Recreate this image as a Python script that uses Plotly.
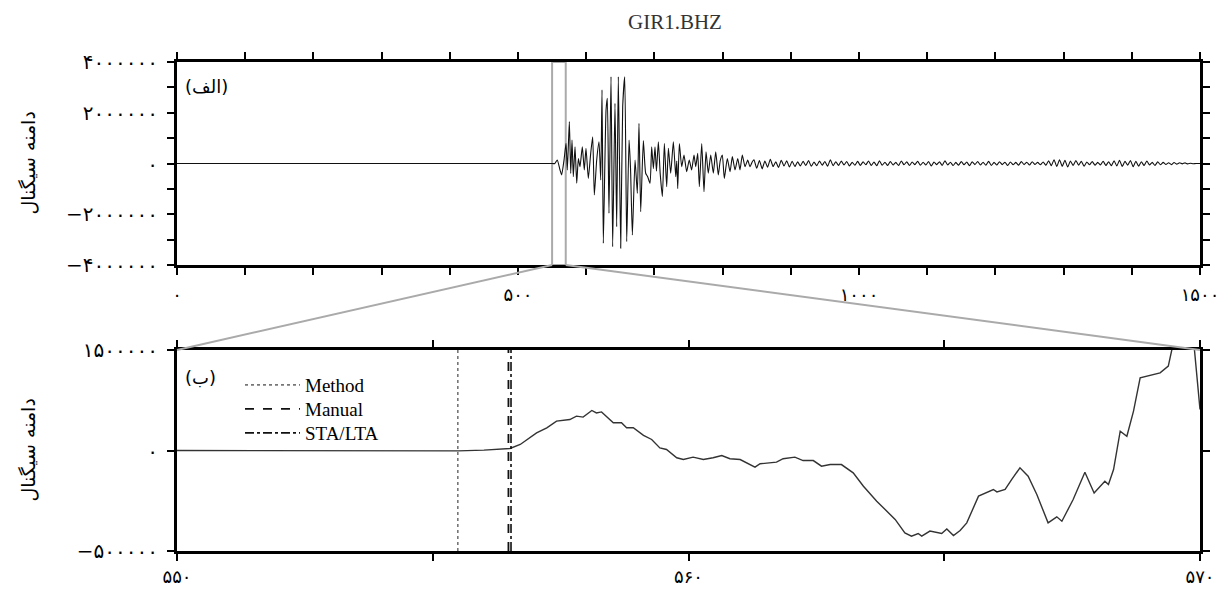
import numpy as np
import plotly.graph_objects as go

# ---------------- data ----------------
station = "GIR1.BHZ"
panel_labels = ["(الف)", "(ب)"]
y_title = "دامنه سیگنال"

# top trace: explicit points (time s, amplitude in thousands)
t_main = [0, 548, 554, 557.6, 561.6, 564, 567.5, 570.4, 572.3, 575.3, 577.3, 579.2, 581.1,
          583.6, 586.1, 588.5, 590.9, 594.3, 597.2, 599.7, 603.1, 606.6, 609.5, 611.9, 615.4,
          618.8, 621.3, 623.2, 625.1, 629.1, 631, 633.4, 636.4, 638.8, 642.2, 644.7, 647.1,
          650.6, 653.5, 656.5, 659.4, 662.8, 665, 667.7, 671.6, 675, 677.4, 679.9, 683.8,
          687.2, 690.1, 693.6, 696, 698.5, 700.9, 703, 705.8, 708.5, 711.7, 714.6, 718, 720.5,
          723.9, 727.8, 731.3, 732.8, 734.2, 736.6, 740, 743.4, 747.3, 751.1, 754.6, 758.1,
          760.6, 763.5, 765.9, 769.4, 772.7, 775.7, 779, 782.6, 786.4, 789.9, 793.7, 796.5,
          799.6, 802.5, 806.9, 810.9, 814.3, 818.2, 822.2, 825.5, 828.9, 832.9, 836.8, 840.2,
          843.6]
v_main = [0, 0, 0, 140, -256, -450, 140, 800, -256, 1650, -390, 925, -520,
          660, -780, 200, -125, 660, -256, 600, -585, 400, 1055, -1240, 140,
          860, -650, 2900, -3145, 2110, 2570, -1960, 3420, -3280, 2370, -2490, 3420,
          -3340, 2240, 3420, -3080, 925, -200, -2820, 140, -1175, 1585, -1900, 900,
          -385, -520, -780, 660, -200, 660, -300, 860, -400, -1300, 790, -910, 595,
          -385, 860, -520, 100, -990, 790, -125, 335, -325, 140, -250, 335,
          -125, 400, -910, 790, -1110, 460, -385, 335, -385, 460, -450, 100,
          335, -585, 200, -325, 270, -250, 200, -250, 335, -125, 140, -125,
          70]
# coda: one value every 4 s from 846 s (thousands)
coda_start, coda_step = 846, 4
v_coda = [150, -190, 120, -210, 100, -150, 170, -120, 70, -160, 130, -100, 110, -140,
          90, -120, 70, -100, 90, -80, 120, -110, 60, -90, 100, -70, 80, -110, 150, -90,
          70, -80, 100, -60, 80, -100, 50, -70, 90,
          -80, 70, -50, 100, -80, 60, -90, 110, -70, 50, -80, 80, -60, 45, -80, 100,
          -50, 70, -80, 60, -45, 90, -70, 50, -60,
          80, -100, 60, -45, 70, -80, 110, -60, 50, -80, 45, -70, 80, -50, 60, -90,
          70, -45, 80, -60, 50, -70, 90, -80, 45,
          -60, 70, -45, 50, -80, 60, -50, 45, -70, 80, -45, 50, -60, 70, -40, 45,
          -50, 60, -70, 110, -90, 150, -120, 150, -110,
          130, -140, 100, -80, 120, -70, 90, -110, 60, -50, 80, -70, 45, -60, 90,
          -80, 70, -90, 110, -100, 130, -120, 90, -70, 120,
          -130, 90, -110, 70, -80, 100, -60, 45, -80, 70, -50, 45, -40, 30, -45, 40,
          -25, 30, -15, 25, -15, 10, -8, 0]
t_end, v_end = 1500, 0

# zoomed trace (time s, amplitude in thousands)
t_zoom = [550, 554.0, 555.5, 556.0, 556.51, 556.71, 556.90, 557.03, 557.23, 557.42, 557.68,
          557.81, 557.94, 558.11, 558.20, 558.30, 558.53, 558.69, 558.79, 558.92, 559.12,
          559.28, 559.44, 559.57, 559.77, 559.90, 560.09, 560.29, 560.48, 560.65, 560.81,
          561.01, 561.30, 561.40, 561.72, 561.85, 562.08, 562.24, 562.44, 562.60, 562.77,
          562.99, 563.22, 563.42, 563.68, 563.87, 564.04, 564.23, 564.36, 564.49, 564.56,
          564.72, 564.95, 565.05, 565.18, 565.31, 565.44, 565.67, 565.83, 565.96, 566.03,
          566.19, 566.32, 566.48, 566.64, 566.81, 567.03, 567.20, 567.30, 567.52, 567.75,
          567.93, 568.14, 568.21, 568.31, 568.44, 568.57, 568.70, 568.83, 568.96, 569.22,
          569.38, 569.45, 569.6, 569.75, 569.87, 570.0]
v_zoom = [0, 0, -2, 2, 10, 30, 63, 88, 113, 146, 154,
          171, 166, 199, 187, 192, 138, 138, 113, 113, 75,
          55, 13, 5, -36, -45, -33, -45, -36, -25, -41,
          -45, -83, -66, -58, -41, -33, -50, -50, -78, -70,
          -70, -111, -178, -252, -302, -343, -410, -426, -413, -426,
          -401, -413, -390, -423, -398, -360, -227, -211, -194, -206,
          -194, -144, -86, -128, -219, -360, -330, -352, -244, -108,
          -211, -153, -169, -95, 96, 71, 196, 362, 370, 386,
          420, 502, 600, 650, 560, 204]

pick_names = ["Method", "Manual", "STA/LTA"]
pick_times = [555.49, 556.48, 556.53]

zoom_window = [550, 570]
top_xrange = [0, 1500]
top_yrange = [-4000000, 4000000]
bot_yrange = [-500000, 500000]

top_xtick_vals = list(range(0, 1501, 100))
top_xtick_text = ["۰", "", "", "", "", "۵۰۰", "", "", "", "", "۱۰۰۰", "", "", "", "", "۱۵۰۰"]
top_ytick_vals = [-4000000, -3000000, -2000000, -1000000, 0, 1000000, 2000000, 3000000, 4000000]
top_ytick_text = ["−۴۰۰۰۰۰۰", "", "−۲۰۰۰۰۰۰", "", "۰", "", "۲۰۰۰۰۰۰", "", "۴۰۰۰۰۰۰"]
bot_xtick_vals = [550, 555, 560, 565, 570]
bot_xtick_text = ["۵۵۰", "", "۵۶۰", "", "۵۷۰"]
bot_ytick_vals = [-500000, 0, 500000]
bot_ytick_text = ["−۵۰۰۰۰۰", "۰", "۱۵۰۰۰۰۰"]

# ---------------- figure ----------------
W, H = 1225, 590
XD = [177 / W, 1200 / W]
YT = [1 - 265 / H, 1 - 62 / H]
YB = [1 - 551 / H, 1 - 350 / H]

t_top = np.concatenate([np.array(t_main, float),
                        coda_start + coda_step * np.arange(len(v_coda)),
                        [t_end]])
v_top = np.concatenate([np.array(v_main, float), np.array(v_coda, float), [v_end]]) * 1000

fig = go.Figure()
fig.add_trace(go.Scatter(x=t_top, y=v_top, mode="lines",
                         line=dict(color="#111", width=1.1, shape="spline", smoothing=0.5),
                         showlegend=False, xaxis="x", yaxis="y", hoverinfo="skip"))
fig.add_trace(go.Scatter(x=t_zoom, y=np.array(v_zoom, float) * 1000, mode="lines",
                         line=dict(color="#333", width=1.4),
                         showlegend=False, xaxis="x2", yaxis="y2", hoverinfo="skip"))

pick_styles = [dict(color="#777", width=1.6, dash="dot"),
               dict(color="#111", width=1.8, dash="dash"),
               dict(color="#111", width=1.6, dash="dashdot")]
legend_ids = ["legend", "legend2", "legend3"]
for name, tp, st, lg in zip(pick_names, pick_times, pick_styles, legend_ids):
    fig.add_trace(go.Scatter(x=[tp, tp], y=bot_yrange, mode="lines", line=st, name=name,
                             legend=lg, xaxis="x2", yaxis="y2", hoverinfo="skip"))

axis_common = dict(showline=True, linewidth=3, linecolor="black", mirror="ticks",
                   ticks="outside", ticklen=7, tickwidth=2, tickcolor="black",
                   showgrid=False, zeroline=False, automargin=False)
yfont = dict(family="DejaVu Sans", size=20, color="black")
xfont = dict(family="DejaVu Sans", size=18, color="black")

legend_rows = [385, 409, 433]
legend_common = dict(xanchor="left", yanchor="middle", bgcolor="rgba(0,0,0,0)",
                     borderwidth=0, itemwidth=55,
                     font=dict(family="Liberation Serif", size=19, color="black"))

fig.update_layout(
    width=W, height=H, autosize=False,
    margin=dict(l=0, r=0, t=0, b=0, autoexpand=False),
    paper_bgcolor="white", plot_bgcolor="white",
    xaxis=dict(domain=XD, range=top_xrange, anchor="y", tickmode="array",
               tickvals=top_xtick_vals, ticktext=top_xtick_text, tickfont=xfont,
               ticklabelstandoff=4, **axis_common),
    yaxis=dict(domain=YT, range=top_yrange, anchor="x", tickmode="array",
               tickvals=top_ytick_vals, ticktext=top_ytick_text, tickfont=yfont,
               ticklabelstandoff=5, **axis_common),
    xaxis2=dict(domain=XD, range=zoom_window, anchor="y2", tickmode="array",
                tickvals=bot_xtick_vals, ticktext=bot_xtick_text, tickfont=xfont,
                ticklabelstandoff=0, **axis_common),
    yaxis2=dict(domain=YB, range=bot_yrange, anchor="x2", tickmode="array",
                tickvals=bot_ytick_vals, ticktext=bot_ytick_text, tickfont=yfont,
                ticklabelstandoff=5, **axis_common),
    legend=dict(x=240 / W, y=1 - legend_rows[0] / H, **legend_common),
    legend2=dict(x=240 / W, y=1 - legend_rows[1] / H, **legend_common),
    legend3=dict(x=240 / W, y=1 - legend_rows[2] / H, **legend_common),
    showlegend=True,
)

# zoom rectangle in the top panel
fig.add_shape(type="rect", xref="x", yref="y", x0=zoom_window[0], x1=zoom_window[1],
              y0=top_yrange[0], y1=top_yrange[1], line=dict(color="#aaa", width=2), layer="below")

# connector lines from zoom window to the lower panel corners
def xpaper(t):
    return XD[0] + (t - top_xrange[0]) / (top_xrange[1] - top_xrange[0]) * (XD[1] - XD[0])

for tz, xb in zip(zoom_window, XD):
    fig.add_shape(type="line", xref="paper", yref="paper", x0=xpaper(tz), y0=YT[0],
                  x1=xb, y1=YB[1], line=dict(color="#aaa", width=2))

annos = [
    dict(text=station, x=675 / W, y=1 - 22 / H, xanchor="center", yanchor="middle",
         font=dict(family="Liberation Serif", size=21, color="#333")),
    dict(text=panel_labels[0], x=183 / W, y=1 - 86 / H, xanchor="left", yanchor="middle",
         font=dict(family="DejaVu Sans", size=18, color="black")),
    dict(text=panel_labels[1], x=183 / W, y=1 - 377 / H, xanchor="left", yanchor="middle",
         font=dict(family="DejaVu Sans", size=18, color="black")),
    dict(text=y_title, x=27 / W, y=(YT[0] + YT[1]) / 2, textangle=-90, xanchor="center",
         yanchor="middle", font=dict(family="DejaVu Sans", size=19, color="black")),
    dict(text=y_title, x=27 / W, y=(YB[0] + YB[1]) / 2, textangle=-90, xanchor="center",
         yanchor="middle", font=dict(family="DejaVu Sans", size=19, color="black")),
]
for a in annos:
    fig.add_annotation(xref="paper", yref="paper", showarrow=False, **a)

fig.write_html("out.html")
